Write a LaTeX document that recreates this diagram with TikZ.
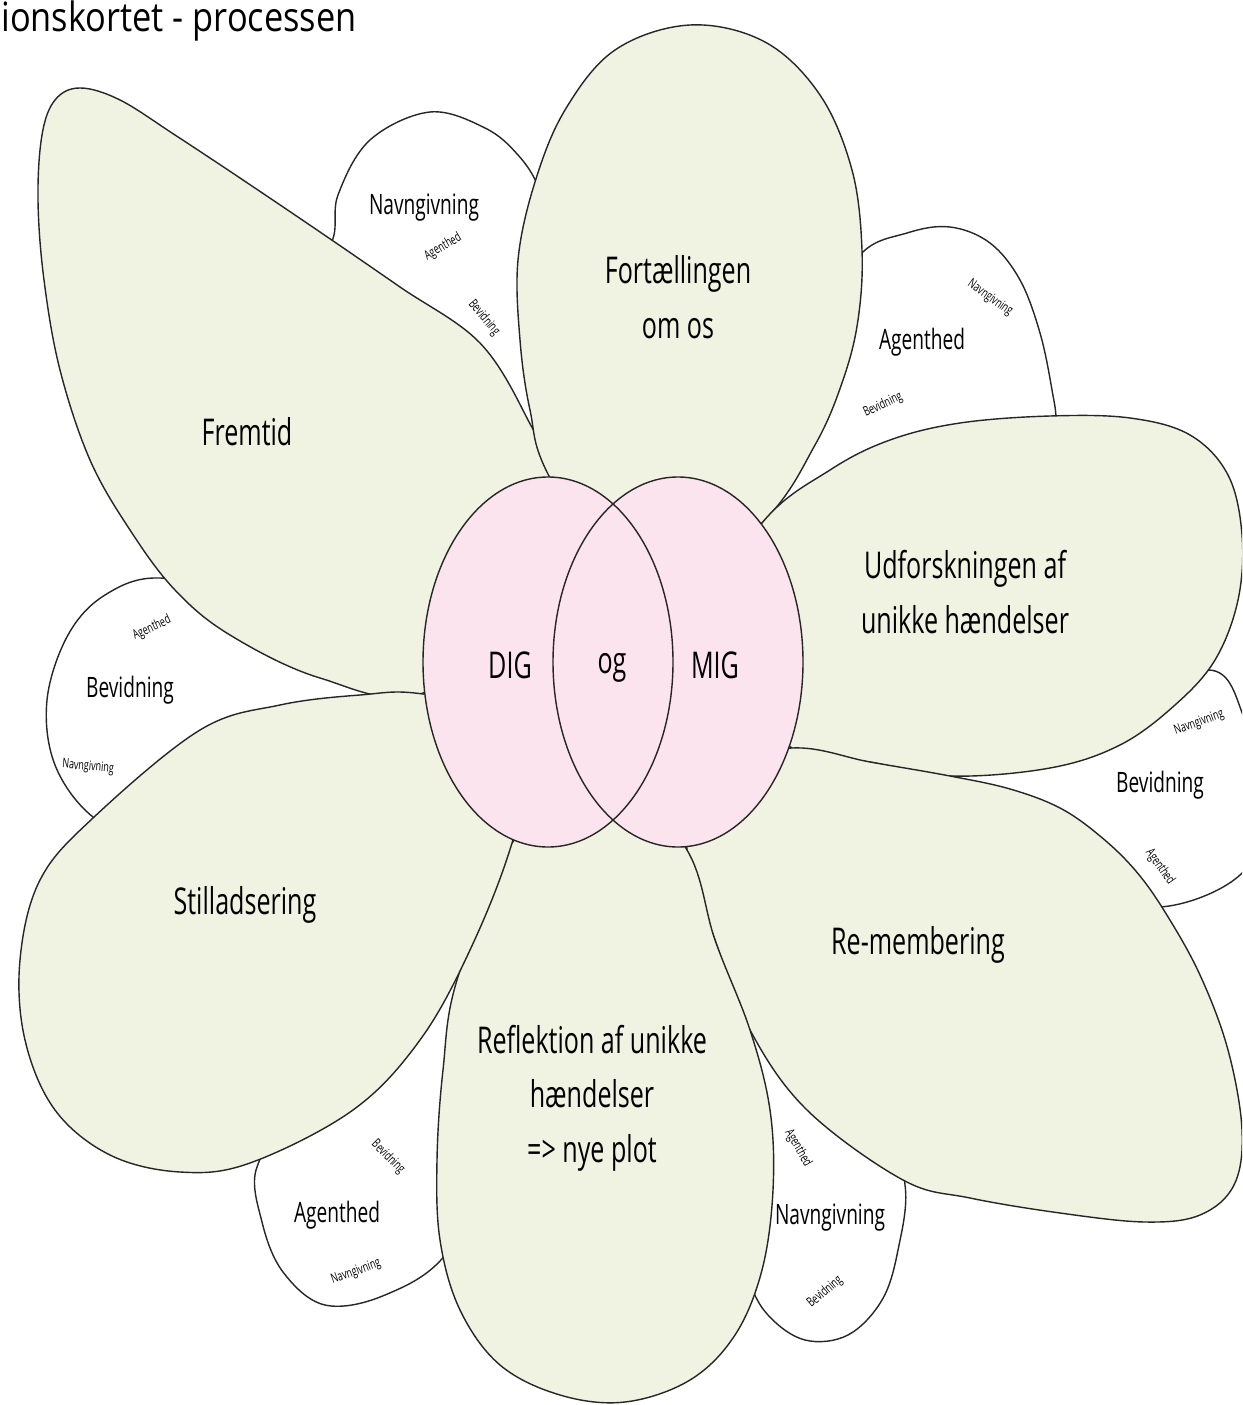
\documentclass[tikz,border=0pt]{standalone}
\usepackage{fontspec}
\setmainfont{Open Sans}[FakeStretch=0.68]
\newfontfamily\titlefont{Open Sans}[FakeStretch=0.85]
\usepackage{tikz}
\pgfdeclarelayer{background}
\pgfdeclarelayer{foreground}
\pgfsetlayers{background,main,foreground}
\definecolor{petalgreen}{RGB}{240,243,226}
\definecolor{hubpink}{RGB}{252,228,239}

\begin{document}
\begin{tikzpicture}[x=0.02cm, y=-0.02cm,
						petal/.style={draw=black!85, line width=0.8pt, fill=petalgreen},
						sidepetal/.style={draw=black!85, line width=0.8pt, fill=white},
						hubline/.style={draw=black!85, line width=0.8pt},
						biglabel/.style={font=\fontsize{21}{31}\selectfont, align=center, inner sep=0pt},
						midlabel/.style={font=\fontsize{16}{18}\selectfont, inner sep=0pt},
						tinylabel/.style={font=\fontsize{7.5}{9}\selectfont, inner sep=0pt},
						titlelabel/.style={font=\titlefont\fontsize{23}{26}\selectfont, inner sep=0pt},
						]
						\useasboundingbox (0,0) rectangle (1242,1405);
						%Nodes
						\node[titlelabel, anchor=base west] (title) at (1,32) {ionskortet - processen};
						\node[biglabel]  (fortael)  at (678,297)  {Fortællingen\\om os};
						\node[biglabel]  (fremtid)  at (247,432)  {Fremtid};
						\node[biglabel]  (udforsk)  at (965,592)  {Udforskningen af\\unikke hændelser};
						\node[biglabel]  (remember) at (918,945)  {Re-membering};
						\node[biglabel]  (reflekt)  at (592,1098) {Reflektion af unikke\\hændelser\\=> nye plot};
						\node[biglabel]  (stillads) at (245,905)  {Stilladsering};
						\node[biglabel]  (dig)      at (510,665)  {DIG};
						\node[biglabel]  (og)       at (612,668)  {og};
						\node[biglabel]  (mig)      at (715,665)  {MIG};
						% small petals
						\node[midlabel]  (navnA)   at (424,208)  {Navngivning};
						\node[tinylabel, rotate=30]  (agentA)  at (443,247)  {Agenthed};
						\node[tinylabel, rotate=-50] (bevidA)  at (484,318)  {Bevidning};
						\node[midlabel]  (agentB)  at (922,342)  {Agenthed};
						\node[tinylabel, rotate=-35] (navnB)   at (990,298)  {Navngivning};
						\node[tinylabel, rotate=25]  (bevidB)  at (883,405)  {Bevidning};
						\node[midlabel]  (bevidC)  at (130,690)  {Bevidning};
						\node[tinylabel, rotate=25]  (agentC)  at (152,628)  {Agenthed};
						\node[tinylabel, rotate=-5]  (navnC)   at (88,767)   {Navngivning};
						\node[midlabel]  (bevidD)  at (1160,785) {Bevidning};
						\node[tinylabel, rotate=20]  (navnD)   at (1199,723) {Navngivning};
						\node[tinylabel, rotate=-55] (agentD)  at (1160,867) {Agenthed};
						\node[midlabel]  (agentE)  at (337,1215) {Agenthed};
						\node[tinylabel, rotate=-45] (bevidE)  at (388,1157) {Bevidning};
						\node[tinylabel, rotate=20]  (navnE)   at (356,1272) {Navngivning};
						\node[midlabel]  (navnF)   at (830,1218) {Navngivning};
						\node[tinylabel, rotate=-60] (agentF)  at (798,1148) {Agenthed};
						\node[tinylabel, rotate=40]  (bevidF)  at (825,1292) {Bevidning};

						\begin{pgfonlayer}{background}
						\clip (0,0) rectangle (1242,1405);
						% white petals behind
						\draw[sidepetal] plot[smooth cycle, tension=0.6] coordinates {(560,520) (280,290) (330,245) (338,195) (370,140) (430,112) (485,128) (518,155) (540,190) (565,260)};
						\draw[sidepetal] plot[smooth cycle, tension=0.6] coordinates {(760,560) (820,330) (860,255) (907,233) (950,227) (990,243) (1020,280) (1040,333) (1052,390) (1056,425) (1050,480)};
						\draw[sidepetal] plot[smooth cycle, tension=0.6] coordinates {(430,690) (250,600) (160,578) (105,595) (68,635) (47,700) (55,765) (93,817) (150,840) (270,745)};
						\draw[sidepetal] plot[smooth cycle, tension=0.6] coordinates {(800,760) (1100,720) (1208,670) (1245,720) (1262,790) (1245,870) (1160,907) (1080,880)};
						\draw[sidepetal] plot[smooth cycle, tension=0.6] coordinates {(520,900) (300,1120) (257,1167) (262,1222) (283,1272) (325,1305) (385,1295) (447,1253) (500,1150)};
						\draw[sidepetal] plot[smooth cycle, tension=0.6] coordinates {(700,900) (680,1150) (743,1272) (768,1315) (805,1340) (848,1335) (882,1300) (898,1250) (905,1185) (880,1120)};
						% green petals
						\draw[petal] plot[smooth cycle, tension=0.6] coordinates {(545,600) (423,693) (320,678) (230,635) (175,590) (130,530) (90,460) (60,370) (44,280) (38,200) (42,135) (55,100) (80,88) (120,100) (175,135) (240,178) (320,232) (400,287) (480,343) (528,420) (550,478)};
						\draw[petal] plot[smooth cycle, tension=0.6] coordinates {(640,620) (550,478) (530,410) (520,340) (518,260) (535,182) (565,110) (615,50) (690,25) (765,42) (820,95) (852,170) (862,250) (858,320) (843,380) (815,445) (762,523)};
						\draw[petal] plot[smooth cycle, tension=0.6] coordinates {(690,640) (762,523) (830,470) (890,440) (960,423) (1050,416) (1130,418) (1190,435) (1228,475) (1242,535) (1238,600) (1215,660) (1175,705) (1120,745) (1050,768) (950,776) (870,762) (792,748)};
						\draw[petal] plot[smooth cycle, tension=0.6] coordinates {(700,770) (792,748) (870,762) (950,776) (1010,789) (1060,808) (1100,836) (1135,870) (1165,912) (1200,975) (1228,1050) (1242,1130) (1234,1185) (1200,1215) (1145,1222) (1060,1213) (970,1198) (903,1180) (807,1110) (750,1030) (715,940) (687,850)};
						\draw[petal] plot[smooth cycle, tension=0.6] coordinates {(615,770) (687,850) (715,940) (750,1030) (770,1110) (773,1190) (762,1270) (735,1335) (690,1380) (625,1402) (560,1395) (500,1365) (460,1310) (440,1240) (437,1160) (443,1070) (457,980) (512,843)};
						\draw[petal] plot[smooth cycle, tension=0.6] coordinates {(540,720) (512,843) (470,950) (420,1040) (353,1110) (250,1163) (180,1172) (110,1155) (55,1110) (25,1040) (20,960) (40,880) (93,818) (200,730) (280,705) (360,695) (423,694)};
						% DIG og MIG
						\fill[hubpink] (548,662) ellipse [x radius=125, y radius=185];
						\fill[hubpink] (678,662) ellipse [x radius=125, y radius=185];
						\draw[hubline] (548,662) ellipse [x radius=125, y radius=185];
						\draw[hubline] (678,662) ellipse [x radius=125, y radius=185];
						\end{pgfonlayer}
					\end{tikzpicture}
\end{document}
